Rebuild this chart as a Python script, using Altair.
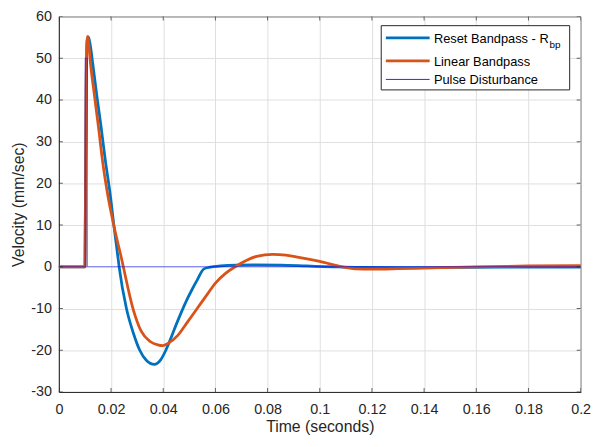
import altair as alt
import pandas as pd

# ---- data ----
t_reset = [0.000, 0.005, 0.0100, 0.0105, 0.0109, 0.0113, 0.0120, 0.0129, 0.0145, 0.0162,
           0.0178, 0.0196, 0.0211, 0.0227, 0.0231, 0.0259, 0.0285, 0.0310, 0.0335, 0.0366,
           0.0390, 0.0410, 0.0430, 0.0450, 0.0470, 0.0490, 0.0510, 0.0530, 0.0556, 0.0580,
           0.0620, 0.0680, 0.0750, 0.0850, 0.0950, 0.1050, 0.1150, 0.1300, 0.1500, 0.1700,
           0.2000]
v_reset = [0.0, 0.0, 0.0, 45.0, 54.3, 55.1, 53.3, 49.1, 41.2, 33.4,
           25.5, 17.7, 9.8, 2.0, 0.0, -10.0, -15.8, -20.0, -22.4, -23.4,
           -22.3, -20.0, -17.0, -13.8, -10.8, -8.0, -5.5, -3.2, -0.5, -0.1,
           0.2, 0.4, 0.45, 0.4, 0.2, 0.0, -0.15, -0.2, -0.15, -0.1,
           -0.1]

t_linear = [0.000, 0.005, 0.0100, 0.0104, 0.0107, 0.0110, 0.0115, 0.0120, 0.0136, 0.0152,
            0.0167, 0.0186, 0.0211, 0.0240, 0.0247, 0.0284, 0.0316, 0.0350, 0.0379, 0.0398,
            0.0420, 0.0455, 0.0490, 0.0530, 0.0570, 0.0600, 0.0640, 0.0675, 0.0720, 0.0758,
            0.0820, 0.0870, 0.0909, 0.1000, 0.1086, 0.1136, 0.1200, 0.1300, 0.1400, 0.1600,
            0.1800, 0.2000]
v_linear = [0.0, 0.0, 0.0, 42.0, 53.5, 55.2, 53.0, 49.5, 41.2, 33.4,
            25.5, 17.7, 9.8, 2.0, 0.0, -10.0, -15.5, -17.9, -18.7, -18.9,
            -18.3, -16.5, -13.5, -10.0, -6.5, -3.9, -1.5, 0.0, 1.6, 2.5,
            3.0, 2.8, 2.4, 1.3, 0.0, -0.5, -0.55, -0.45, -0.3, 0.0,
            0.2, 0.3]

t_pulse = [0.000, 0.0101, 0.0101, 0.0109, 0.0109, 0.2000]
v_pulse = [0.0, 0.0, 50.0, 50.0, 0.0, 0.0]

x_ticks = [0, 0.02, 0.04, 0.06, 0.08, 0.1, 0.12, 0.14, 0.16, 0.18, 0.2]
y_ticks = [-30, -20, -10, 0, 10, 20, 30, 40, 50, 60]

legend_labels = ["Reset Bandpass - R", "Linear Bandpass", "Pulse Disturbance"]
legend_sub = "bp"

C_BLUE = "#0072BD"
C_ORANGE = "#D95319"
C_PULSE = "#0000FF"
AX = "#262626"
FONT = "Liberation Sans"

W, H = 528, 380

reset_df = pd.DataFrame({"t": t_reset, "v": v_reset})
linear_df = pd.DataFrame({"t": t_linear, "v": v_linear})
pulse_df = pd.DataFrame({"t": t_pulse, "v": v_pulse, "i": list(range(len(t_pulse)))})
xt_df = pd.DataFrame({"t": x_ticks, "lo": y_ticks[0], "hi": y_ticks[-1]})
yt_df = pd.DataFrame({"v": y_ticks, "lo": x_ticks[0], "hi": x_ticks[-1]})

xscale = alt.Scale(domain=[x_ticks[0], x_ticks[-1]], nice=False, zero=False)
yscale = alt.Scale(domain=[y_ticks[0], y_ticks[-1]], nice=False, zero=False)

x_axis = alt.Axis(values=x_ticks, format="~g", title="Time (seconds)", ticks=False,
                  labelFlush=False, labelOverlap=False,
                  labelPadding=11, labelFontSize=14.5, titleFontSize=16,
                  titleX=W / 2, titleY=40, titleBaseline="alphabetic", titleAlign="center")
y_axis = alt.Axis(values=y_ticks, labelExpr="'' + datum.value", title="Velocity (mm/sec)",
                  labelFlush=False, labelOverlap=False,
                  ticks=False, labelPadding=7.5, labelFontSize=14.5, titleFontSize=16,
                  titleX=-35.5, titleY=H / 2, titleAngle=-90, titleBaseline="alphabetic",
                  titleAlign="center")

X = alt.X("t:Q", scale=xscale, axis=x_axis)
Y = alt.Y("v:Q", scale=yscale, axis=y_axis)

reset_line = alt.Chart(reset_df).mark_line(
    color=C_BLUE, strokeWidth=2.8, interpolate="monotone", strokeJoin="round"
).encode(x=X, y=Y)

linear_line = alt.Chart(linear_df).mark_line(
    color=C_ORANGE, strokeWidth=2.8, interpolate="monotone", strokeJoin="round"
).encode(x=X, y=Y)

pulse_line = alt.Chart(pulse_df).mark_line(
    color=C_PULSE, strokeWidth=1.1, opacity=0.55
).encode(x=X, y=Y, order="i:Q")

# inward ticks on all four sides (clipped to the plot area)
xt_bottom = alt.Chart(xt_df).mark_tick(orient="vertical", size=8, thickness=1, color=AX, clip=True).encode(
    x=X, y=alt.Y("lo:Q", scale=yscale, axis=y_axis))
xt_top = alt.Chart(xt_df).mark_tick(orient="vertical", size=8, thickness=1, color=AX, clip=True).encode(
    x=X, y=alt.Y("hi:Q", scale=yscale, axis=y_axis))
yt_left = alt.Chart(yt_df).mark_tick(orient="horizontal", size=8, thickness=1, color=AX, clip=True).encode(
    y=Y, x=alt.X("lo:Q", scale=xscale, axis=x_axis))
yt_right = alt.Chart(yt_df).mark_tick(orient="horizontal", size=8, thickness=1, color=AX, clip=True).encode(
    y=Y, x=alt.X("hi:Q", scale=xscale, axis=x_axis))

# ---- legend box ----
one = pd.DataFrame({"k": [0]})
lx0, lx1, ly0, ly1 = 326.2, 516.9, 9.3, 74.3
legend_box = alt.Chart(one).mark_rect(fill="white", stroke=AX, strokeWidth=1).encode(
    x=alt.value(lx0), x2=alt.value(lx1), y=alt.value(ly0), y2=alt.value(ly1))

legend_layers = [legend_box]
entry_y = [21.7, 45.0, 63.7]
text_y = [26.7, 50.3, 68.7]
entry_col = [C_BLUE, C_ORANGE, C_PULSE]
entry_w = [2.8, 2.8, 1.0]
entry_op = [1.0, 1.0, 0.85]
for lab, ly, ty, col, sw, op in zip(legend_labels, entry_y, text_y, entry_col, entry_w, entry_op):
    legend_layers.append(
        alt.Chart(one).mark_rule(color=col, strokeWidth=sw, opacity=op).encode(
            x=alt.value(330.9), x2=alt.value(375.2), y=alt.value(ly)))
    legend_layers.append(
        alt.Chart(pd.DataFrame({"label": [lab]})).mark_text(
            align="left", baseline="alphabetic", fontSize=13, font=FONT, color="#000000"
        ).encode(text="label:N", x=alt.value(379.5), y=alt.value(ty)))
legend_layers.append(
    alt.Chart(pd.DataFrame({"label": [legend_sub]})).mark_text(
        align="left", baseline="alphabetic", fontSize=10, font=FONT, color="#000000"
    ).encode(text="label:N", x=alt.value(496.5), y=alt.value(31.7)))

chart = alt.layer(
    reset_line, linear_line, pulse_line, xt_bottom, xt_top, yt_left, yt_right, *legend_layers
).properties(
    width=W, height=H,
    autosize=alt.AutoSizeParams(type="none"),
    padding={"left": 51.5, "top": 6, "right": 10.5, "bottom": 44},
).configure(
    font=FONT,
    background="white",
).configure_view(
    stroke=AX, strokeWidth=1,
).configure_axis(
    domainColor=AX, domainWidth=1, gridColor="#dedede", gridWidth=1,
    labelColor=AX, titleColor=AX, labelFont=FONT, titleFont=FONT,
    titleFontWeight="normal", grid=True,
)

chart.save("out.html", embed_options={"renderer": "svg", "actions": False})
